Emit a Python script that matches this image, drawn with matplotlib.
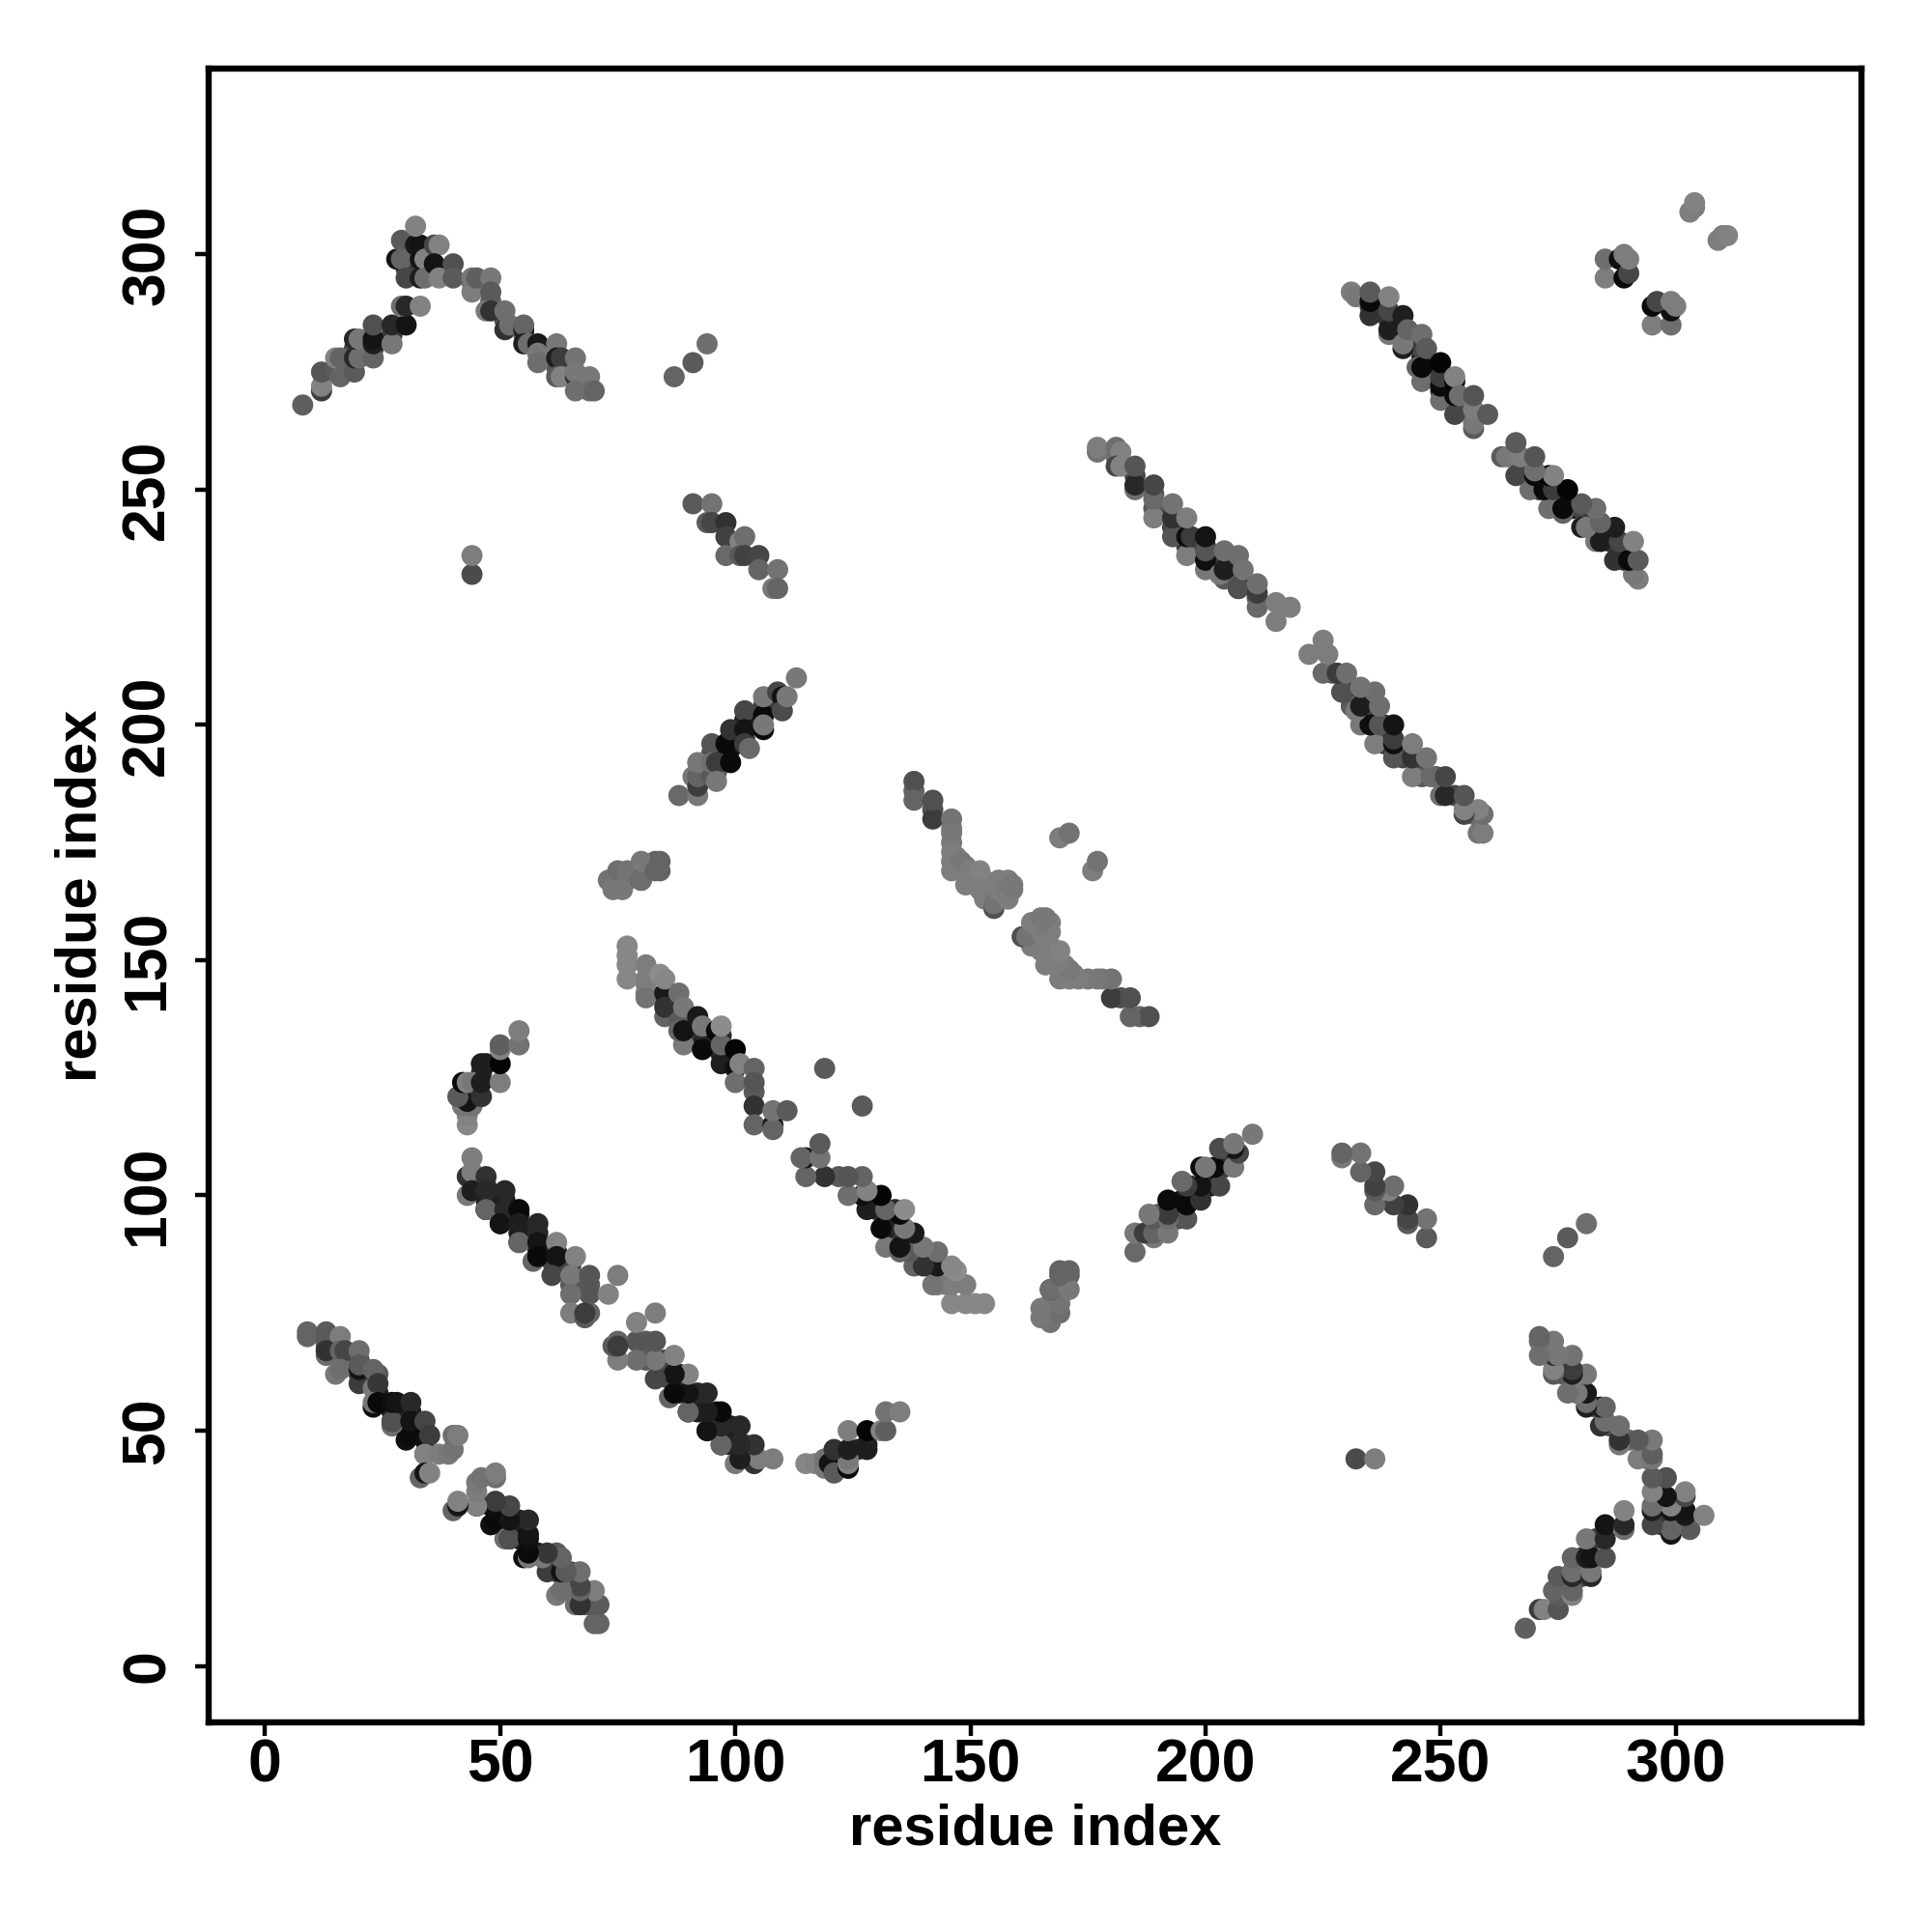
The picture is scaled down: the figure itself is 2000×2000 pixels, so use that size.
import matplotlib
matplotlib.use("Agg")
import matplotlib.pyplot as plt

# contacts as (residue i, residue j, grey 0-255), i < j. the map is symmetric
chevron = [(8,268,95),(12,271,60),(12,272,130),(12,275,85),(15,275,90),(16,274,100),(15,278,130),(16,278,100),
           (19,275,90),(19,278,40),(20,278,110),(19,282,40),(20,282,120),(23,278,100),(23,281,30),(23,282,20),
           (23,285,80),(27,281,120),(27,285,40),(30,285,20),(29,289,110),(30,289,40),(33,289,130),
           (28,299,20),(29,303,90),(29,299,100),(30,295,70),(32,302,25),(33,302,20),(32,306,130),(33,295,30),
           (33,299,20),(34,299,130),(34,295,110),(36,302,70),(37,302,130),(36,298,20),(37,295,130),
           (40,298,80),(40,295,90),(44,292,125),(44,295,120),(45,295,95),(48,295,120),(48,292,90),
           (47,288,120),(48,288,50),(51,284,50),(51,288,110),(52,285,110),(55,284,30),(55,285,100),
           (55,281,30),(56,281,110),(58,281,25),(58,279,120),(58,277,110),(62,281,120),(62,278,30),(63,278,60),
           (62,274,90),(63,274,130),(66,278,115),(66,274,50),(66,275,120),(66,271,110),(69,274,120),(69,271,110),(70,271,100)]
short_a = [(87,274,100),(91,277,90),(94,281,110)]
short_b = [(44,232,75),(44,236,125)]
strand_c = [(91,247,90),(95,247,115),(94,243,90),(95,243,70),(98,243,50),(98,240,65),(98,236,105),(101,239,130),
            (102,240,110),(101,236,90),(102,236,65),(105,236,70),(105,233,100),(109,233,115),(108,229,120),(109,229,100)]
strand_e = [(88,185,105),(92,185,120),(91,189,120),(92,187,60),(92,189,100),(92,192,120),(95,196,85),(95,189,90),
            (95,192,110),(96,192,60),(96,188,120),(98,196,10),(99,199,50),(99,192,10),(102,203,70),(102,199,20),
            (102,196,60),(103,195,105),(106,202,10),(106,199,10),(106,200,120),(106,206,120),(109,207,70),
            (110,206,20),(110,203,75),(111,206,120),(113,210,120)]
band_f = [(138,188,80),(138,184,100),(142,180,60),(142,184,80),(146,180,115),(146,177,120),(146,175,120),(146,173,125),
          (146,171,125),(146,169,125),(148,171,120),(149,166,125),(150,169,125),(152,169,130),(152,165,125),
          (153,163,125),(155,161,80),(155,162,115),(156,167,125),(156,165,125),(158,167,125),(158,165,120),(158,163,125),(159,166,120),(159,165,120)]
short_f = [(169,176,125),(171,177,115)]
patch_g = [(73,167,115),(74,167,115),(74,165,120),(75,169,110),(76,165,120),(77,169,115),(80,167,30),(80,167,110),
           (80,171,120),(83,169,100),(84,169,100),(84,171,100)]
band_h = [(77,153,135),(77,151,135),(77,149,135),(77,146,135),(81,149,125),(81,146,125),(81,143,125),(81,142,115),
          (85,143,25),(85,140,50),(84,147,140),(85,146,135),(88,143,110),(88,137,90),(89,132,120),(88,135,100),
          (89,135,20),(89,140,120),(92,138,25),(93,131,10),(93,136,120),(96,135,10),(97,128,30),(97,132,100),
          (97,136,140),(100,131,5),(100,127,15),(100,124,110),(101,128,130),(104,127,100),(104,124,85),
          (104,119,50),(104,115,100),(108,115,25),(108,114,100),(108,118,115),(111,118,90),(119,127,90)]
strand_i = [(43,115,135),(43,117,130),(42,119,120),(44,119,115),(43,120,20),(41,121,90),(42,124,10),(43,124,130),(44,124,120),
            (46,121,50),(46,124,30),(46,128,30),(47,128,30),(50,124,125),(50,128,5),(50,131,130),(50,132,95),(54,132,115),(54,135,125)]
band_j = [(44,108,125),(43,104,50),(44,105,125),(43,100,120),(44,101,30),(47,104,50),(47,101,40),(47,97,5),(47,97,100),
          (51,101,40),(51,97,40),(50,94,90),(50,94,20),(54,97,10),(54,94,30),(54,90,5),(54,90,100),(58,94,40),
          (58,90,20),(57,86,100),(58,87,10),(62,90,130),(62,87,20),(61,83,70),(65,83,10),(66,87,130),(65,83,120),
          (69,83,85),(69,79,85),(65,79,110),(65,75,125),(68,74,90),(69,75,100),(68,75,60),(73,79,130),(75,83,125)]
band_k = [(9,70,100),(9,71,100),(13,71,90),(13,69,90),(16,70,125),(13,66,110),(13,67,50),(16,67,100),(17,67,70),
          (15,62,120),(16,63,110),(20,67,110),(20,60,60),(20,63,20),(20,64,90),(23,63,100),(23,59,120),(24,60,55),
          (23,55,15),(23,56,120),(24,56,10),(27,51,110),(27,52,10),(27,52,80),(27,56,15),(28,56,20),(31,56,40),
          (30,48,15),(31,49,10),(31,52,20),(34,48,15),(34,52,70),(35,49,60),(34,45,5),(34,45,130),(37,45,125),
          (39,45,120),(40,46,115),(40,49,110),(41,49,125),(33,40,100),(34,41,20),(35,41,130)]
band_l = [(177,258,115),(177,259,125),(181,259,110),(182,258,130),(181,255,70),(182,255,130),(185,250,110),(185,251,40),
          (185,255,85),(189,244,125),(189,248,105),(189,251,70),(193,240,85),(193,244,50),(193,247,115),(196,236,125),
          (196,240,15),(197,240,60),(196,244,125),(200,233,120),(200,235,15),(200,237,85),(200,240,20),(203,232,120),
          (204,233,30),(204,237,110),(207,229,30),(207,229,80),(207,236,110),(208,233,115),(211,225,105),(211,228,60),
          (211,230,110),(215,222,125),(215,226,125),(218,225,125)]
band_m = [(231,292,125),(232,291,120),(235,287,50),(235,290,10),(235,292,90),(239,283,120),(239,284,30),(239,288,70),(239,291,130),
          (242,280,30),(242,281,120),(242,287,30),(243,284,100),(245,276,100),(246,273,110),(246,276,10),(246,283,110),
          (247,280,90),(250,269,110),(250,272,10),(250,274,60),(250,277,5),(253,266,70),(253,270,10),(253,273,5),(253,274,130),
          (254,270,110),(257,263,90),(257,264,120),(257,267,125),(257,270,85),(260,266,90)]
patch_n = [(285,295,125),(285,299,110),(288,299,15),(289,295,10),(289,300,125),(290,296,70),(290,299,125)]
short_n = [(303,309,125),(304,310,125),(304,311,130)]

# contacts mostly hidden under the others, only seen in the gaps of the bands
hidden_a = [(33,297,40),(30,297,60),(36,296,90),(48,290,100),(51,286,80),(55,283,90),(58,279,100),(62,276,90),
            (66,273,100),(19,280,70),(23,280,60),(27,283,60),(16,276,100),(44,294,110),(34,301,60)]
hidden_e = [(95,194,80),(99,195,20),(99,197,30),(102,201,30),(106,204,60),(92,190,90),(110,205,60),(102,197,50),
            (96,190,90),(98,194,20)]
hidden_f = [(147,172,125),(149,170,125),(151,168,125),(153,167,125),(154,165,125),(155,165,125),(157,166,125),
            (150,167,125),(153,165,125),(138,186,100),(142,182,80),(146,178,120),(148,169,125),(156,163,125)]
hidden_g = [(75,167,120),(76,167,120),(77,167,115),(78,168,115),(79,169,115),(81,170,110),(82,170,110),(83,171,100)]
hidden_h = [(85,141,50),(88,141,90),(89,137,60),(93,133,30),(93,135,40),(97,130,40),(100,129,30),(104,122,90),
            (89,134,60),(97,134,40),(81,145,125),(85,138,100),(92,136,50),(96,133,30)]
hidden_i = [(43,122,60),(46,126,40),(44,122,60)]
hidden_j = [(47,99,30),(51,99,30),(51,95,40),(54,92,30),(54,96,20),(58,92,40),(58,88,30),(62,88,40),(62,85,60),
            (65,81,90),(65,85,70),(69,81,90),(61,86,70),(47,102,50),(50,96,60)]
hidden_k = [(16,66,60),(20,62,60),(24,58,30),(27,54,25),(31,54,30),(31,50,15),(24,62,90),(17,64,120),(34,50,30),
            (28,53,30),(30,51,15),(13,68,90),(20,65,80)]
hidden_l = [(185,253,70),(189,246,90),(193,242,70),(197,238,50),(200,238,50),(204,235,60),(207,231,60),(211,227,90),
            (189,249,80),(193,245,70),(196,238,60),(204,231,90),(181,257,110)]
hidden_m = [(239,286,50),(242,283,40),(246,278,30),(250,275,30),(253,271,30),(257,265,100),(235,289,60),(246,280,70),
            (250,271,50),(253,268,70),(243,282,60)]

contacts = (hidden_a + hidden_e + hidden_f + hidden_g + hidden_h + hidden_i + hidden_j + hidden_k + hidden_l + hidden_m
            + chevron + short_a + short_b + strand_c + strand_e + band_f + short_f + patch_g
            + band_h + strand_i + band_j + band_k + band_l + band_m + patch_n + short_n)

tick_values = [0, 50, 100, 150, 200, 250, 300]

plt.rcParams['font.family'] = ['Liberation Sans', 'DejaVu Sans']
plt.rcParams['font.weight'] = 'bold'

fig = plt.figure(figsize=(10, 10), dpi=200)
ax = fig.add_axes([216/2000, 1 - 1783/2000, (1927-216)/2000, (1783-71)/2000])

# upper triangle as read, then the mirror image
xs = [c[0] for c in contacts] + [c[1] for c in contacts]
ys = [c[1] for c in contacts] + [c[0] for c in contacts]
shades = [str(c[2]/255.0) for c in contacts] * 2
ax.scatter(xs, ys, s=62, c=shades, linewidths=0)

ax.set_xlim(-12, 339.5)
ax.set_ylim(-12, 339.5)
ax.set_xticks(tick_values)
ax.set_yticks(tick_values)
ax.tick_params(axis='both', width=1.6, length=5, labelsize=22.5)
ax.tick_params(axis='x', pad=0.5)
ax.tick_params(axis='y', pad=7)
plt.setp(ax.get_yticklabels(), rotation=90, va='center')

ax.set_xlabel("residue index", fontsize=21.5, fontweight='bold', labelpad=3.5)
ax.set_ylabel("residue index", fontsize=21.5, fontweight='bold', labelpad=4.5)

for spine in ax.spines.values():
    spine.set_linewidth(2.3)

fig.savefig("out.png", dpi=200)
